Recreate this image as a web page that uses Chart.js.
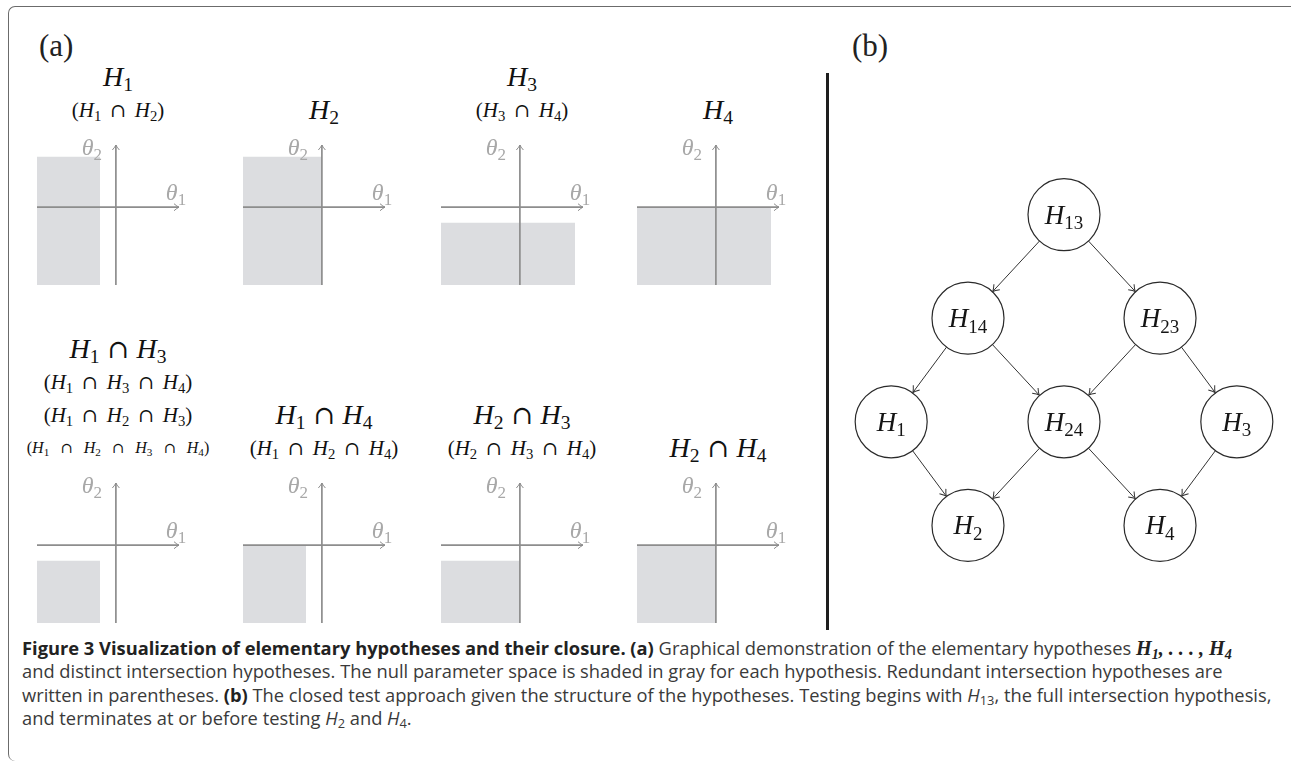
<!DOCTYPE html>
<html>
<head>
<meta charset="utf-8">
<script src="https://cdn.jsdelivr.net/npm/chart.js@4.4.1/dist/chart.umd.min.js"></script>
<style>
body { margin: 0; background: #fff; width: 1291px; height: 762px; overflow: hidden; position: relative; }
.frame { position: absolute; left: 8px; top: 6px; width: 1290px; height: 754px;
  border-top: 1.5px solid #6b6b6b; border-left: 1.2px solid #6b6b6b;
  border-top-left-radius: 7px; border-bottom-left-radius: 7px; }
.math { position: absolute; transform: translate(-50%, -50%); white-space: nowrap; line-height: 1;
  font-family: "Liberation Serif", "DejaVu Serif", serif; color: #111; }
.math i { font-style: italic; }
.math .op { display: inline-block; font-family: "DejaVu Serif", serif; font-size: 0.92em; }
.math sub, .cap sub { font-size: 0.7em; vertical-align: baseline; position: relative; top: 0.28em; line-height: 0; }
.tag { position: absolute; font-family: "Liberation Serif", "DejaVu Serif", serif; font-size: 31px; color: #222; line-height: 1; }
.sep { position: absolute; left: 826px; top: 73px; width: 3px; height: 557px; background: #1e1e1e; }
canvas { position: absolute; }
.cap { position: absolute; left: 22px; top: 636px; font-family: "Open Sans", "Noto Sans", sans-serif;
  font-size: 16px; line-height: 23.3px; color: #3a3a3a; white-space: nowrap; }
.cap > div { display: block; height: 23.3px; }
.cap b { color: #222; }
.cap .m { font-family: "Liberation Serif", serif; font-style: italic; font-weight: bold; font-size: 1.1em; color: #222; line-height: 0; }
.cap .mi { font-style: italic; }
</style>
</head>
<body>
<div class="frame"></div>
<div class="tag" style="left:39px; top:30px;">(a)</div>
<div class="tag" style="left:852px; top:30px;">(b)</div>
<div class="sep"></div>
<div id="panels"></div>
<div class="cap" id="cap">
<div><b>Figure 3 Visualization of elementary hypotheses and their closure. (a)</b> Graphical demonstration of the elementary hypotheses <span class="m">H<sub>1</sub>, . . . , H<sub>4</sub></span></div>
<div><span id="capRef">and distinct intersection hypotheses. The null parameter space is shaded in gray for each hypothesis. Redundant intersection hypotheses are</span></div>
<div>written in parentheses. <b>(b)</b> The closed test approach given the structure of the hypotheses. Testing begins with <span class="mi">H</span><sub>13</sub>, the full intersection hypothesis,</div>
<div>and terminates at or before testing <span class="mi">H</span><sub>2</sub> and <span class="mi">H</span><sub>4</sub>.</div>
</div>
<script>
// panel (a): which hypotheses each small plot shows
const hypMain = [[1], [2], [3], [4], [1, 3], [1, 4], [2, 3], [2, 4]];
const hypRedundant = [[[1, 2]], [], [[3, 4]], [], [[1, 3, 4], [1, 2, 3], [1, 2, 3, 4]], [[1, 2, 4]], [[2, 3, 4]], []];
// shaded null region: from (shadeLeft, shadeBottom) up to (shadeRight, shadeTop)
const shadeRight = [-1, 0, 3.5, 3.5, -1, -1, 0, 0];
const shadeTop = [3.25, 3.25, -1, 0, -1, 0, -1, 0];
const shadeLeft = -5;
const shadeBottom = -5;
const axisMin = -5;
const axisMax = 4;

// panel (b): closed testing graph
const nodeNames = ['13', '14', '23', '1', '24', '3', '2', '4'];
const nodeX = [0, -1, 1, -1.8, 0, 1.8, -1, 1];
const nodeY = [0, -1, -1, -2, -2, -2, -3, -3];
const edgeFrom = ['13', '13', '14', '14', '23', '23', '1', '24', '24', '3'];
const edgeTo = ['14', '23', '1', '24', '24', '3', '2', '2', '4', '4'];

const AXIS = '#8d8d8d';
const SHADE = '#dcdde0';
const LABEL = '#a8a8a8';
const colX = [116, 322, 520, 716];
const rowY = [207, 545];
const SERIF = '"Liberation Serif", "DejaVu Serif", serif';

// fit caption to the reference line width
(function () {
  const cap = document.getElementById('cap');
  const w = document.getElementById('capRef').getBoundingClientRect().width;
  cap.style.fontSize = (16 * 1202 / w) + 'px';
})();

function hyp(i) { return '<i>H</i><sub>' + i + '</sub>'; }
function inter(list, gap) {
  return list.map(hyp).join('<span class="op" style="margin:0 ' + gap + 'em">∩</span>');
}

function drawSub(ctx, base, sub, cx, cy, size, color) {
  ctx.save();
  ctx.fillStyle = color;
  ctx.textBaseline = 'alphabetic';
  ctx.textAlign = 'left';
  ctx.font = 'italic ' + size + 'px ' + SERIF;
  const wb = ctx.measureText(base).width;
  const ss = Math.round(size * 0.7);
  ctx.font = ss + 'px ' + SERIF;
  const ws = ctx.measureText(sub).width;
  const left = cx - (wb + ws) / 2;
  const base0 = cy + size * 0.33;
  ctx.font = 'italic ' + size + 'px ' + SERIF;
  ctx.fillText(base, left, base0);
  ctx.font = ss + 'px ' + SERIF;
  ctx.fillText(sub, left + wb, base0 + size * 0.2);
  ctx.restore();
}

function arrowHead(ctx, tx, ty, ang, len, spread) {
  ctx.save();
  ctx.translate(tx, ty);
  ctx.rotate(ang);
  ctx.beginPath();
  ctx.moveTo(-len, -spread);
  ctx.quadraticCurveTo(-len * 0.35, -spread * 0.2, 0, 0);
  ctx.quadraticCurveTo(-len * 0.35, spread * 0.2, -len, spread);
  ctx.stroke();
  ctx.restore();
}

const axisDecor = {
  id: 'axisDecor',
  afterDatasetsDraw(chart) {
    const { ctx, scales: { x, y } } = chart;
    const x0 = x.getPixelForValue(0), y0 = y.getPixelForValue(0);
    const xe = x.getPixelForValue(axisMax), ye = y.getPixelForValue(axisMax);
    ctx.save();
    ctx.strokeStyle = AXIS;
    ctx.lineWidth = 1;
    arrowHead(ctx, xe, y0, 0, 5, 3.5);
    arrowHead(ctx, x0, ye, -Math.PI / 2, 5, 3.5);
    ctx.restore();
    drawSub(ctx, 'θ', '1', xe - 3, y0 - 15, 24, LABEL);
    drawSub(ctx, 'θ', '2', x0 - 24, ye + 2, 24, LABEL);
  }
};

const panels = document.getElementById('panels');
hypMain.forEach((main, i) => {
  const vx = colX[i % 4], ay = rowY[Math.floor(i / 4)];
  // titles, stacked upward from just above the axes
  const lines = [{ html: inter(main, 0.3), size: 28 }].concat(
    hypRedundant[i].map(s => s.length > 3
      ? { html: '(' + inter(s, 0.75) + ')', size: 16 }
      : { html: '(' + inter(s, 0.45) + ')', size: 21 }));
  lines.forEach((ln, k) => {
    const d = document.createElement('div');
    d.className = 'math';
    d.style.fontSize = ln.size + 'px';
    d.style.left = (vx + 2) + 'px';
    d.style.top = (ay - 97 - 33 * (lines.length - 1 - k)) + 'px';
    d.innerHTML = ln.html;
    panels.appendChild(d);
  });

  const cv = document.createElement('canvas');
  cv.width = 170; cv.height = 162;
  cv.style.left = (vx - 89) + 'px';
  cv.style.top = (ay - 80) + 'px';
  panels.appendChild(cv);
  new Chart(cv, {
    type: 'scatter',
    data: {
      datasets: [
        { data: [{ x: axisMin, y: 0 }, { x: axisMax, y: 0 }], showLine: true, borderColor: AXIS, borderWidth: 1.7, pointRadius: 0 },
        { data: [{ x: 0, y: axisMin }, { x: 0, y: axisMax }], showLine: true, borderColor: AXIS, borderWidth: 1.7, pointRadius: 0 },
        { data: [{ x: shadeLeft, y: shadeTop[i] }, { x: shadeRight[i], y: shadeTop[i] }], showLine: true, borderWidth: 0,
          pointRadius: 0, backgroundColor: SHADE, fill: { value: shadeBottom } }
      ]
    },
    options: {
      responsive: false, animation: false, events: [],
      layout: { autoPadding: false, padding: { left: 10, right: 18, top: 18, bottom: 4 } },
      scales: {
        x: { type: 'linear', min: axisMin, max: axisMax, display: false },
        y: { type: 'linear', min: axisMin, max: axisMax, display: false }
      },
      plugins: { legend: { display: false }, tooltip: { enabled: false } }
    },
    plugins: [axisDecor]
  });
});

// graph chart
const NODE_R = 36;
const graphDecor = {
  id: 'graphDecor',
  afterDatasetsDraw(chart) {
    const { ctx, scales: { x, y } } = chart;
    const pos = n => {
      const k = nodeNames.indexOf(n);
      return [x.getPixelForValue(nodeX[k]), y.getPixelForValue(nodeY[k])];
    };
    ctx.save();
    ctx.strokeStyle = '#333';
    ctx.lineWidth = 1;
    edgeFrom.forEach((f, k) => {
      const [ax, ay] = pos(f), [bx, by] = pos(edgeTo[k]);
      const dx = bx - ax, dy = by - ay, L = Math.hypot(dx, dy);
      const ux = dx / L, uy = dy / L;
      const sx = ax + ux * NODE_R, sy = ay + uy * NODE_R;
      const ex = bx - ux * (NODE_R + 0.5), ey = by - uy * (NODE_R + 0.5);
      ctx.beginPath();
      ctx.moveTo(sx, sy);
      ctx.lineTo(ex, ey);
      ctx.stroke();
      arrowHead(ctx, ex, ey, Math.atan2(dy, dx), 6, 4);
    });
    ctx.restore();
    nodeNames.forEach(n => {
      const [px, py] = pos(n);
      drawSub(ctx, 'H', n, px, py, 27, '#151515');
    });
  }
};

const gc = document.createElement('canvas');
gc.width = 448; gc.height = 518;
gc.style.left = '840px'; gc.style.top = '111px';
document.body.appendChild(gc);
new Chart(gc, {
  type: 'scatter',
  data: {
    datasets: [{
      data: nodeNames.map((n, i) => ({ x: nodeX[i], y: nodeY[i] })),
      pointRadius: NODE_R, pointBackgroundColor: '#fff', pointBorderColor: '#2a2a2a', pointBorderWidth: 1.2, clip: false
    }]
  },
  options: {
    responsive: false, animation: false, events: [],
    layout: { autoPadding: false, padding: 0 },
    scales: {
      x: { type: 'linear', min: -2.333, max: 2.333, display: false },
      y: { type: 'linear', min: -4, max: 1, display: false }
    },
    plugins: { legend: { display: false }, tooltip: { enabled: false } }
  },
  plugins: [graphDecor]
});
</script>
</body>
</html>
